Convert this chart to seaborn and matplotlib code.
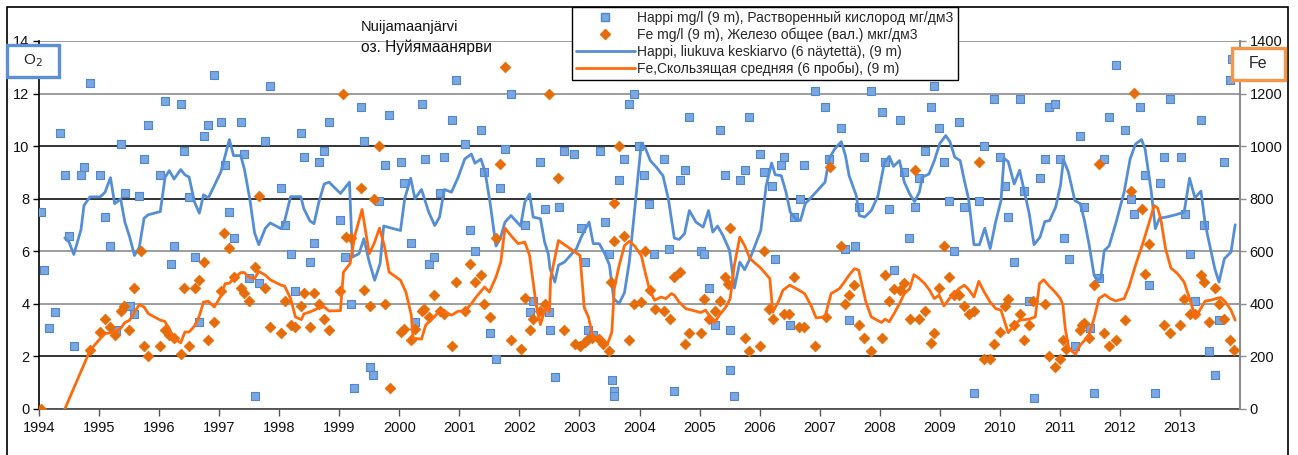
import matplotlib
matplotlib.use('Agg')
import matplotlib.pyplot as plt
from matplotlib.lines import Line2D
from matplotlib.patches import Rectangle
import pandas as pd
import seaborn as sns

# ---------------------------------------------
# data (decimal year, value)
# ---------------------------------------------
# Happi mg/l (9 m) - single samples
happi_year = [
    1994.03, 1994.08, 1994.17, 1994.26, 1994.35, 1994.43, 1994.50, 1994.58, 1994.70, 1994.75, 1994.85,
    1995.02, 1995.10, 1995.19, 1995.28, 1995.36, 1995.43, 1995.51, 1995.58, 1995.67, 1995.75, 1995.82,
    1996.02, 1996.10, 1996.20, 1996.25, 1996.36, 1996.41, 1996.50, 1996.59, 1996.67, 1996.74, 1996.82, 1996.92,
    1997.03, 1997.10, 1997.17, 1997.24, 1997.36, 1997.41, 1997.49, 1997.59, 1997.66, 1997.77, 1997.85,
    1998.03, 1998.09, 1998.19, 1998.26, 1998.36, 1998.41, 1998.51, 1998.58, 1998.66, 1998.75, 1998.83,
    1999.02, 1999.09, 1999.19, 1999.25, 1999.37, 1999.41, 1999.51, 1999.57, 1999.67, 1999.76, 1999.83,
    2000.02, 2000.08, 2000.19, 2000.26, 2000.37, 2000.42, 2000.49, 2000.58, 2000.67, 2000.75, 2000.87, 2000.95,
    2001.09, 2001.18, 2001.26, 2001.36, 2001.41, 2001.51, 2001.61, 2001.68, 2001.76, 2001.86,
    2002.09, 2002.17, 2002.22, 2002.35, 2002.42, 2002.49, 2002.51, 2002.59, 2002.66, 2002.75, 2002.91,
    2003.03, 2003.10, 2003.14, 2003.22, 2003.35, 2003.42, 2003.50, 2003.55, 2003.57, 2003.58, 2003.66,
    2003.75, 2003.83, 2003.91, 2003.99,
    2004.08, 2004.15, 2004.24, 2004.40, 2004.49, 2004.58, 2004.67, 2004.75, 2004.83,
    2005.02, 2005.08, 2005.15, 2005.25, 2005.34, 2005.42, 2005.50, 2005.51, 2005.58, 2005.67, 2005.75, 2005.83,
    2006.01, 2006.08, 2006.20, 2006.25, 2006.36, 2006.41, 2006.50, 2006.57, 2006.67, 2006.74, 2006.93,
    2007.09, 2007.16, 2007.35, 2007.43, 2007.49, 2007.59, 2007.66, 2007.74, 2007.86,
    2008.03, 2008.09, 2008.16, 2008.23, 2008.33, 2008.41, 2008.48, 2008.58, 2008.66, 2008.75, 2008.85, 2008.90, 2008.99,
    2009.07, 2009.16, 2009.24, 2009.32, 2009.40, 2009.57, 2009.65, 2009.74, 2009.90,
    2010.00, 2010.08, 2010.14, 2010.24, 2010.33, 2010.40, 2010.49, 2010.57, 2010.67, 2010.75, 2010.82, 2010.92,
    2011.00, 2011.07, 2011.15, 2011.25, 2011.34, 2011.41, 2011.50, 2011.57, 2011.66, 2011.74, 2011.82, 2011.93,
    2012.09, 2012.18, 2012.24, 2012.34, 2012.41, 2012.49, 2012.59, 2012.66, 2012.74, 2012.83,
    2013.02, 2013.08, 2013.16, 2013.25, 2013.35, 2013.40, 2013.49, 2013.58, 2013.65, 2013.73, 2013.84, 2013.86,
]
happi_o2 = [
    7.5, 5.3, 3.1, 3.7, 10.5, 8.9, 6.6, 2.4, 8.9, 9.2, 12.4,
    8.9, 7.3, 6.2, 3.0, 10.1, 8.2, 3.9, 3.6, 8.1, 9.5, 10.8,
    8.9, 11.7, 5.5, 6.2, 11.6, 9.8, 8.05, 5.8, 3.3, 10.4, 10.8, 12.7,
    10.9, 9.3, 7.5, 6.5, 10.9, 9.7, 5.0, 0.5, 4.8, 10.2, 12.3,
    8.4, 7.0, 5.9, 4.5, 10.5, 9.6, 5.6, 6.3, 9.4, 9.8, 10.9,
    7.2, 5.8, 4.0, 0.8, 11.5, 10.2, 1.6, 1.3, 7.9, 9.3, 11.2,
    9.4, 8.6, 6.3, 3.3, 11.6, 9.5, 5.5, 5.8, 8.2, 9.6, 11.0, 12.5,
    10.1, 6.8, 6.0, 10.6, 9.0, 2.9, 1.9, 8.4, 9.9, 12.0,
    7.0, 3.7, 4.1, 9.4, 7.6, 3.7, 3.0, 1.2, 7.7, 9.8, 9.7,
    6.9, 5.6, 3.0, 2.8, 9.8, 7.1, 5.9, 1.1, 0.7, 0.5, 8.7,
    9.5, 11.6, 12.0, 10.0,
    8.9, 7.8, 5.9, 9.5, 6.1, 0.7, 8.7, 9.1, 11.1,
    6.0, 5.9, 4.6, 3.2, 10.6, 8.9, 3.0, 1.5, 0.5, 8.7, 9.1, 11.1,
    9.7, 9.0, 8.5, 5.7, 9.3, 9.6, 3.2, 7.3, 8.0, 9.3, 12.1,
    11.5, 9.5, 10.7, 6.1, 3.4, 6.2, 7.7, 9.6, 12.1,
    11.3, 9.4, 7.6, 5.3, 11.0, 9.0, 6.5, 7.7, 8.8, 9.8, 11.5, 12.3, 10.7,
    9.4, 7.9, 6.0, 10.9, 7.7, 0.6, 7.9, 10.0, 11.8,
    9.6, 8.5, 7.3, 5.6, 11.8, 8.3, 4.1, 0.4, 8.8, 9.5, 11.5, 11.6,
    9.5, 6.5, 5.7, 2.4, 10.4, 7.7, 3.1, 0.6, 5.0, 9.5, 11.1, 13.1,
    10.6, 8.0, 7.4, 11.5, 8.9, 4.7, 0.6, 8.6, 9.6, 11.8,
    9.6, 7.4, 5.9, 4.1, 11.0, 7.0, 2.2, 1.3, 3.4, 9.4, 12.5, 13.3,
]

# Fe (9 m), ug/l - single samples
fe_year = [
    1994.03, 1994.85,
    1995.02, 1995.10, 1995.19, 1995.26, 1995.36, 1995.42, 1995.50, 1995.59, 1995.70, 1995.75, 1995.82,
    1996.02, 1996.09, 1996.16, 1996.25, 1996.37, 1996.41, 1996.50, 1996.59, 1996.67, 1996.74, 1996.82, 1996.92,
    1997.03, 1997.08, 1997.17, 1997.24, 1997.36, 1997.42, 1997.49, 1997.59, 1997.66, 1997.77, 1997.85,
    1998.03, 1998.09, 1998.19, 1998.27, 1998.37, 1998.41, 1998.51, 1998.58, 1998.66, 1998.75, 1998.83,
    1999.01, 1999.07, 1999.12, 1999.20, 1999.37, 1999.41, 1999.51, 1999.58, 1999.67, 1999.76, 1999.84,
    2000.02, 2000.08, 2000.19, 2000.26, 2000.37, 2000.41, 2000.49, 2000.58, 2000.67, 2000.75, 2000.87, 2000.95,
    2001.09, 2001.18, 2001.26, 2001.36, 2001.41, 2001.51, 2001.61, 2001.68, 2001.76, 2001.86,
    2002.02, 2002.09, 2002.17, 2002.23, 2002.35, 2002.42, 2002.50, 2002.65, 2002.75, 2002.92,
    2003.01, 2003.09, 2003.15, 2003.21, 2003.33, 2003.40, 2003.50, 2003.53, 2003.57, 2003.58, 2003.66,
    2003.75, 2003.83, 2003.91,
    2004.02, 2004.09, 2004.17, 2004.26, 2004.40, 2004.50, 2004.58, 2004.67, 2004.75, 2004.83,
    2005.02, 2005.08, 2005.16, 2005.25, 2005.34, 2005.42, 2005.47, 2005.51, 2005.75, 2005.83,
    2006.01, 2006.08, 2006.16, 2006.23, 2006.41, 2006.49, 2006.57, 2006.66, 2006.74, 2006.93,
    2007.10, 2007.18, 2007.35, 2007.42, 2007.49, 2007.58, 2007.66, 2007.74, 2007.85,
    2008.03, 2008.09, 2008.16, 2008.23, 2008.33, 2008.41, 2008.50, 2008.58, 2008.66, 2008.75, 2008.85, 2008.90, 2008.99,
    2009.07, 2009.16, 2009.24, 2009.32, 2009.41, 2009.49, 2009.57, 2009.65, 2009.74, 2009.84, 2009.91,
    2010.01, 2010.08, 2010.14, 2010.24, 2010.33, 2010.40, 2010.49, 2010.56, 2010.75, 2010.82, 2010.92,
    2011.01, 2011.05, 2011.11, 2011.33, 2011.37, 2011.41, 2011.49, 2011.57, 2011.66, 2011.74, 2011.82, 2011.93,
    2012.09, 2012.18, 2012.24, 2012.36, 2012.41, 2012.49, 2012.74, 2012.83,
    2013.00, 2013.07, 2013.16, 2013.25, 2013.35, 2013.40, 2013.49, 2013.58, 2013.65, 2013.73, 2013.84, 2013.90,
]
fe_ugl = [
    0, 223,
    292, 342, 311, 281, 372, 392, 301, 460, 600, 240, 201,
    240, 301, 283, 272, 211, 460, 240, 460, 491, 560, 262, 331,
    450, 670, 611, 501, 460, 440, 411, 541, 810, 460, 311,
    291, 411, 321, 311, 391, 440, 311, 440, 401, 342, 301,
    450, 1200, 654, 651, 841, 452, 391, 800, 1002, 401, 78,
    293, 304, 263, 304, 374, 382, 350, 433, 374, 362, 240, 483,
    374, 552, 483, 511, 401, 350, 651, 931, 1302, 262,
    230, 421, 301, 342, 372, 401, 1200, 880, 301, 249,
    240, 253, 266, 271, 266, 249, 220, 483, 782, 639, 1002,
    660, 262, 401,
    407, 601, 452, 382, 372, 342, 502, 521, 249, 291,
    291, 420, 342, 372, 411, 502, 474, 689, 271, 220,
    240, 601, 382, 342, 362, 362, 502, 311, 311, 240,
    350, 920, 622, 401, 433, 471, 321, 271, 220,
    271, 511, 411, 458, 452, 481, 342, 910, 342, 372, 252, 291, 460,
    622, 502, 433, 433, 392, 362, 372, 941, 192, 192, 249,
    293, 392, 420, 321, 362, 262, 321, 411, 401, 201, 161,
    192, 262, 230, 300, 319, 326, 271, 471, 932, 291, 240, 262,
    340, 831, 1202, 762, 512, 629, 321, 291,
    321, 420, 362, 362, 511, 483, 331, 462, 401, 342, 262, 223,
]

# Happi, moving average (6 samples)
happi_ma_year = [
    1994.43, 1994.50, 1994.58, 1994.70, 1994.75, 1994.85, 1995.02, 1995.10, 1995.19, 1995.26, 1995.36,
    1995.43, 1995.51, 1995.59, 1995.67, 1995.75, 1995.82, 1996.02, 1996.10, 1996.17, 1996.25, 1996.36,
    1996.43, 1996.50, 1996.59, 1996.67, 1996.74, 1996.82, 1996.92, 1997.03, 1997.10, 1997.17, 1997.24,
    1997.36, 1997.42, 1997.51, 1997.59, 1997.66, 1997.77, 1997.85, 1998.03, 1998.09, 1998.19, 1998.36,
    1998.41, 1998.51, 1998.58, 1998.66, 1998.75, 1998.83, 1999.02, 1999.17, 1999.22, 1999.33, 1999.41,
    1999.50, 1999.59, 1999.68, 1999.74, 2000.02, 2000.09, 2000.19, 2000.26, 2000.37, 2000.49, 2000.59,
    2000.67, 2000.75, 2000.87, 2000.98, 2001.09, 2001.20, 2001.26, 2001.36, 2001.43, 2001.51, 2001.61,
    2001.68, 2001.76, 2001.86, 2002.02, 2002.09, 2002.17, 2002.23, 2002.35, 2002.42, 2002.48, 2002.51,
    2002.59, 2002.65, 2002.75, 2002.95, 2003.03, 2003.16, 2003.23, 2003.33, 2003.43, 2003.50, 2003.57,
    2003.66, 2003.75, 2003.83, 2003.91, 2004.03, 2004.10, 2004.18, 2004.28, 2004.39, 2004.48, 2004.58,
    2004.66, 2004.75, 2004.83, 2004.94, 2005.06, 2005.15, 2005.22, 2005.30, 2005.39, 2005.50, 2005.58,
    2005.67, 2005.75, 2005.84, 2006.02, 2006.11, 2006.20, 2006.26, 2006.36, 2006.44, 2006.51, 2006.61,
    2006.68, 2006.76, 2006.94, 2007.09, 2007.16, 2007.25, 2007.36, 2007.43, 2007.49, 2007.61, 2007.66,
    2007.75, 2007.86, 2007.97, 2008.08, 2008.16, 2008.23, 2008.33, 2008.41, 2008.50, 2008.58, 2008.66,
    2008.71, 2008.82, 2008.91, 2009.00, 2009.10, 2009.17, 2009.25, 2009.34, 2009.41, 2009.48, 2009.57,
    2009.66, 2009.75, 2009.84, 2009.93, 2010.02, 2010.07, 2010.14, 2010.24, 2010.33, 2010.40, 2010.49,
    2010.57, 2010.67, 2010.75, 2010.83, 2010.93, 2011.01, 2011.06, 2011.14, 2011.25, 2011.34, 2011.41,
    2011.49, 2011.57, 2011.62, 2011.68, 2011.74, 2011.82, 2011.93, 2012.07, 2012.17, 2012.26, 2012.36,
    2012.42, 2012.52, 2012.59, 2012.66, 2012.77, 2012.93, 2013.07, 2013.16, 2013.25, 2013.35, 2013.42,
    2013.49, 2013.58, 2013.65, 2013.74, 2013.85, 2013.92,
]
happi_ma = [
    6.51, 6.35, 5.88, 6.83, 7.75, 8.07, 8.07, 8.25, 8.80, 7.81, 7.99,
    7.11, 6.54, 5.84, 6.15, 7.26, 7.39, 7.51, 8.82, 9.07, 8.75, 9.11,
    8.91, 8.82, 7.87, 7.45, 8.15, 8.03, 8.50, 9.03, 9.64, 10.25, 9.64,
    9.64, 9.13, 8.00, 6.70, 6.25, 6.88, 7.08, 6.86, 7.15, 8.08, 8.08,
    7.62, 7.16, 7.05, 7.87, 8.56, 8.63, 8.20, 8.63, 5.78, 5.91, 6.48,
    5.59, 4.90, 5.53, 6.96, 6.79, 8.00, 8.78, 8.00, 8.35, 7.49, 6.98,
    7.30, 8.35, 8.25, 8.82, 9.51, 9.70, 9.35, 9.51, 9.01, 7.87, 6.20,
    6.48, 7.11, 7.36, 6.96, 7.87, 8.18, 7.30, 7.24, 6.35, 5.91, 5.34,
    4.83, 5.47, 5.59, 6.10, 6.54, 7.11, 6.29, 6.29, 5.87, 5.47, 4.20,
    4.01, 4.43, 5.59, 7.36, 10.12, 9.91, 9.45, 9.20, 8.88, 8.00, 6.50,
    6.45, 6.67, 7.55, 7.11, 6.92, 7.55, 6.73, 6.96, 6.60, 6.03, 4.60,
    5.59, 5.30, 5.72, 6.79, 8.50, 9.36, 8.91, 8.88, 8.25, 7.49, 7.21,
    7.17, 7.81, 8.25, 8.63, 9.54, 9.89, 10.17, 9.64, 8.88, 8.12, 7.36,
    7.30, 7.55, 8.10, 9.39, 9.61, 9.23, 9.45, 8.63, 8.18, 7.89, 8.25,
    8.82, 8.94, 9.45, 10.10, 10.40, 10.17, 9.58, 9.45, 8.69, 8.00, 6.25,
    6.25, 6.88, 6.10, 7.11, 7.93, 9.54, 9.41, 8.56, 9.08, 8.37, 7.43,
    6.25, 6.54, 7.13, 7.17, 7.68, 8.50, 9.49, 9.03, 7.93, 7.81, 7.17,
    6.22, 5.09, 4.90, 4.96, 6.03, 6.20, 7.05, 8.25, 9.51, 10.08, 10.25,
    9.89, 8.31, 6.86, 7.26, 7.30, 7.39, 7.49, 8.78, 8.03, 8.29, 7.05,
    6.29, 5.34, 4.83, 5.72, 5.97, 7.01,
]

# Fe, moving average (6 samples)
fe_ma_year = [
    1994.43, 1994.85, 1995.02, 1995.10, 1995.19, 1995.26, 1995.36, 1995.43, 1995.51, 1995.59, 1995.67,
    1995.75, 1995.82, 1996.02, 1996.09, 1996.17, 1996.25, 1996.36, 1996.43, 1996.50, 1996.59, 1996.67,
    1996.74, 1996.82, 1996.92, 1997.03, 1997.10, 1997.17, 1997.24, 1997.36, 1997.42, 1997.49, 1997.59,
    1997.66, 1997.77, 1997.85, 1998.03, 1998.09, 1998.19, 1998.27, 1998.37, 1998.41, 1998.51, 1998.58,
    1998.66, 1998.75, 1998.83, 1999.02, 1999.07, 1999.18, 1999.26, 1999.38, 1999.50, 1999.58, 1999.67,
    1999.75, 1999.83, 2000.02, 2000.11, 2000.20, 2000.23, 2000.29, 2000.37, 2000.44, 2000.58, 2000.67,
    2000.76, 2000.87, 2000.98, 2001.09, 2001.20, 2001.28, 2001.42, 2001.50, 2001.61, 2001.69, 2001.76,
    2001.88, 2001.98, 2002.09, 2002.17, 2002.28, 2002.35, 2002.44, 2002.50, 2002.52, 2002.65, 2003.01,
    2003.08, 2003.15, 2003.23, 2003.33, 2003.47, 2003.54, 2003.58, 2003.66, 2003.75, 2003.83, 2003.92,
    2004.03, 2004.10, 2004.17, 2004.25, 2004.36, 2004.44, 2004.53, 2004.58, 2004.66, 2004.77, 2004.94,
    2005.02, 2005.10, 2005.19, 2005.25, 2005.33, 2005.44, 2005.51, 2005.58, 2005.67, 2005.75, 2005.84,
    2006.02, 2006.17, 2006.22, 2006.31, 2006.39, 2006.50, 2006.61, 2006.75, 2006.86, 2006.94, 2007.09,
    2007.19, 2007.33, 2007.42, 2007.49, 2007.58, 2007.65, 2007.72, 2007.77, 2007.86, 2008.03, 2008.09,
    2008.16, 2008.24, 2008.33, 2008.41, 2008.50, 2008.57, 2008.66, 2008.75, 2008.83, 2008.91, 2008.99,
    2009.07, 2009.16, 2009.24, 2009.32, 2009.41, 2009.49, 2009.57, 2009.65, 2009.74, 2009.84, 2009.93,
    2010.02, 2010.14, 2010.24, 2010.33, 2010.49, 2010.59, 2010.66, 2010.73, 2010.82, 2010.92, 2011.01,
    2011.05, 2011.09, 2011.15, 2011.26, 2011.34, 2011.43, 2011.48, 2011.57, 2011.65, 2011.75, 2011.84,
    2011.93, 2012.07, 2012.15, 2012.26, 2012.37, 2012.49, 2012.57, 2012.63, 2012.68, 2012.76, 2012.85,
    2012.96, 2013.07, 2013.16, 2013.23, 2013.29, 2013.32, 2013.42, 2013.52, 2013.60, 2013.68, 2013.76,
    2013.85, 2013.92,
]
fe_ma = [
    0, 223, 268, 287, 290, 293, 306, 329, 338, 369, 397,
    388, 363, 338, 334, 306, 266, 252, 293, 293, 316, 354,
    407, 410, 388, 430, 477, 478, 496, 519, 519, 502, 496,
    524, 509, 492, 471, 468, 420, 350, 340, 362, 369, 376,
    385, 388, 373, 374, 521, 553, 660, 759, 591, 629, 688,
    622, 521, 490, 445, 357, 268, 268, 266, 319, 350, 372,
    369, 357, 372, 372, 401, 426, 464, 445, 502, 559, 688,
    654, 629, 635, 584, 395, 321, 388, 369, 496, 641, 584,
    385, 350, 268, 275, 249, 293, 458, 545, 622, 638, 620,
    584, 515, 452, 414, 426, 420, 439, 433, 407, 382, 372,
    367, 376, 347, 329, 357, 388, 420, 547, 654, 622, 572,
    536, 496, 369, 407, 452, 471, 458, 439, 392, 347, 350,
    439, 458, 486, 509, 534, 528, 458, 407, 350, 329, 342,
    332, 363, 401, 439, 458, 511, 496, 477, 452, 420, 433,
    392, 420, 439, 458, 471, 452, 426, 486, 445, 407, 382,
    376, 290, 319, 338, 342, 350, 477, 492, 468, 445, 420,
    397, 306, 230, 209, 243, 266, 281, 344, 420, 435, 420,
    411, 420, 464, 547, 622, 711, 774, 764, 724, 610, 536,
    515, 483, 420, 369, 350, 372, 411, 414, 420, 424, 407,
    376, 338,
]

year_ticks = list(range(1994, 2014))
o2_ticks = [0, 2, 4, 6, 8, 10, 12, 14]
fe_ticks = [0, 200, 400, 600, 800, 1000, 1200, 1400]

legend_labels = [
    'Happi mg/l (9 m), Растворенный кислород мг/дм3',
    'Fe mg/l (9 m), Железо общее (вал.) мкг/дм3',
    'Happi, liukuva keskiarvo (6 näytettä), (9 m)',
    'Fe,Скользящая средняя (6 пробы), (9 m)',
]

# colours
BLUE_MARK = '#7BA7E0'
BLUE_EDGE = '#4F86D0'
BLUE_LINE = '#558ED5'
ORANGE_MARK = '#E46C0A'
ORANGE_LINE = '#FF6A0D'
BOX_BLUE = '#5B8FD6'
BOX_ORANGE = '#F79646'

sns.set_style('white')
plt.rcParams['font.family'] = ['Liberation Sans', 'DejaVu Sans']

W, H = 1298, 455
fig = plt.figure(figsize=(W / 100, H / 100), dpi=100)
ax = fig.add_axes([39 / W, 1 - 409 / H, (1240 - 39) / W, (409 - 41) / H])
ax2 = ax.twinx()

happi_df = pd.DataFrame({'year': happi_year, 'o2': happi_o2})
fe_df = pd.DataFrame({'year': fe_year, 'fe': fe_ugl})
happi_ma_df = pd.DataFrame({'year': happi_ma_year, 'o2': happi_ma})
fe_ma_df = pd.DataFrame({'year': fe_ma_year, 'fe': fe_ma})

# O2 on the left axis
sns.scatterplot(data=happi_df, x='year', y='o2', ax=ax, marker='s', s=30,
                color=BLUE_MARK, edgecolor=BLUE_EDGE, linewidth=0.8, zorder=3)
sns.lineplot(data=happi_ma_df, x='year', y='o2', ax=ax, color=BLUE_LINE,
             linewidth=2.0, estimator=None, sort=False, zorder=4)

# Fe on the right axis
sns.scatterplot(data=fe_df, x='year', y='fe', ax=ax2, marker='D', s=30,
                color=ORANGE_MARK, edgecolor=ORANGE_MARK, linewidth=0.5, zorder=3)
sns.lineplot(data=fe_ma_df, x='year', y='fe', ax=ax2, color=ORANGE_LINE,
             linewidth=2.0, estimator=None, sort=False, zorder=4)

for a in (ax, ax2):
    if a.get_legend() is not None:
        a.get_legend().remove()
    a.set_xlabel('')
    a.set_ylabel('')

ax.set_xlim(1994, 2014)
ax.set_ylim(0, 14)
ax2.set_ylim(0, 1400)
ax.set_xticks(year_ticks)
ax.set_xticklabels([str(y) for y in year_ticks])
ax.set_yticks(o2_ticks)
ax.set_yticklabels([str(v) for v in o2_ticks])
ax2.set_yticks(fe_ticks)
ax2.set_yticklabels([str(v) for v in fe_ticks])

# horizontal grid, mixed black / grey like the original
ax.grid(True, axis='y', linewidth=1.2, color='#8C8C8C')
ax.grid(False, axis='x')
ax2.grid(False)
for val, gl in zip(o2_ticks, ax.get_ygridlines()):
    if val in (2, 8, 10):
        gl.set_color('#111111')
ax.set_axisbelow(True)

for side in ('top', 'right'):
    ax.spines[side].set_visible(False)
for side in ('top', 'left', 'bottom'):
    ax2.spines[side].set_visible(False)
ax.spines['left'].set_color('black')
ax.spines['left'].set_linewidth(1.2)
ax.spines['bottom'].set_color('#444444')
ax.spines['bottom'].set_linewidth(1.2)
ax2.spines['right'].set_color('#8C8C8C')
ax2.spines['right'].set_linewidth(1.5)

ax.tick_params(axis='y', left=True, direction='out', length=4, width=1,
               color='black', labelsize=10.5, labelcolor='#111111', pad=3)
ax.tick_params(axis='x', bottom=True, direction='out', length=5, width=1,
               color='#555555', labelsize=10.5, labelcolor='#111111', pad=4)
ax2.tick_params(axis='y', right=True, direction='out', length=4, width=1,
                color='#8C8C8C', labelsize=10.5, labelcolor='#111111', pad=3)

# outer chart frame
fig.add_artist(Rectangle((7 / W, -0.05), (1288 - 7) / W, 1.05 - 7 / H,
                         transform=fig.transFigure, fill=False,
                         edgecolor='black', linewidth=1.2, zorder=0))

# titles
fig.text(361 / W, 1 - 27 / H, 'Nuijamaanjärvi', fontsize=10.5,
         ha='left', va='center', color='#111111')
fig.text(361 / W, 1 - 47 / H, 'оз. Нуйямаанярви', fontsize=11.2,
         ha='left', va='center', color='#111111')

# axis name boxes
fig.add_artist(Rectangle((7 / W, 1 - 77 / H), 52 / W, 32 / H,
                         transform=fig.transFigure, facecolor='white',
                         edgecolor=BOX_BLUE, linewidth=2.4, zorder=5))
fig.text(33 / W, 1 - 61 / H, r'O$_2$', fontsize=11, ha='center',
         va='center', zorder=6)
fig.add_artist(Rectangle((1232 / W, 1 - 80 / H), 53 / W, 32 / H,
                         transform=fig.transFigure, facecolor='white',
                         edgecolor=BOX_ORANGE, linewidth=2.4, zorder=5))
fig.text(1258 / W, 1 - 64 / H, 'Fe', fontsize=11.5, ha='center',
         va='center', zorder=6)

# legend
handles = [
    Line2D([], [], linestyle='none', marker='s', markersize=5.5,
           markerfacecolor=BLUE_MARK, markeredgecolor=BLUE_EDGE),
    Line2D([], [], linestyle='none', marker='D', markersize=5.5,
           markerfacecolor=ORANGE_MARK, markeredgecolor=ORANGE_MARK),
    Line2D([], [], color=BLUE_LINE, linewidth=2.0),
    Line2D([], [], color=ORANGE_LINE, linewidth=2.0),
]
leg = fig.legend(handles, legend_labels, loc='upper left',
                 bbox_to_anchor=(572 / W, 1 - 7 / H), borderaxespad=0,
                 fontsize=10, frameon=True, fancybox=False, framealpha=1,
                 edgecolor='black', handlelength=4.2, handletextpad=0.2,
                 labelspacing=0.18, borderpad=0.3)
leg.get_frame().set_linewidth(1.0)
leg.set_zorder(7)

fig.savefig('out.png', dpi=100)
